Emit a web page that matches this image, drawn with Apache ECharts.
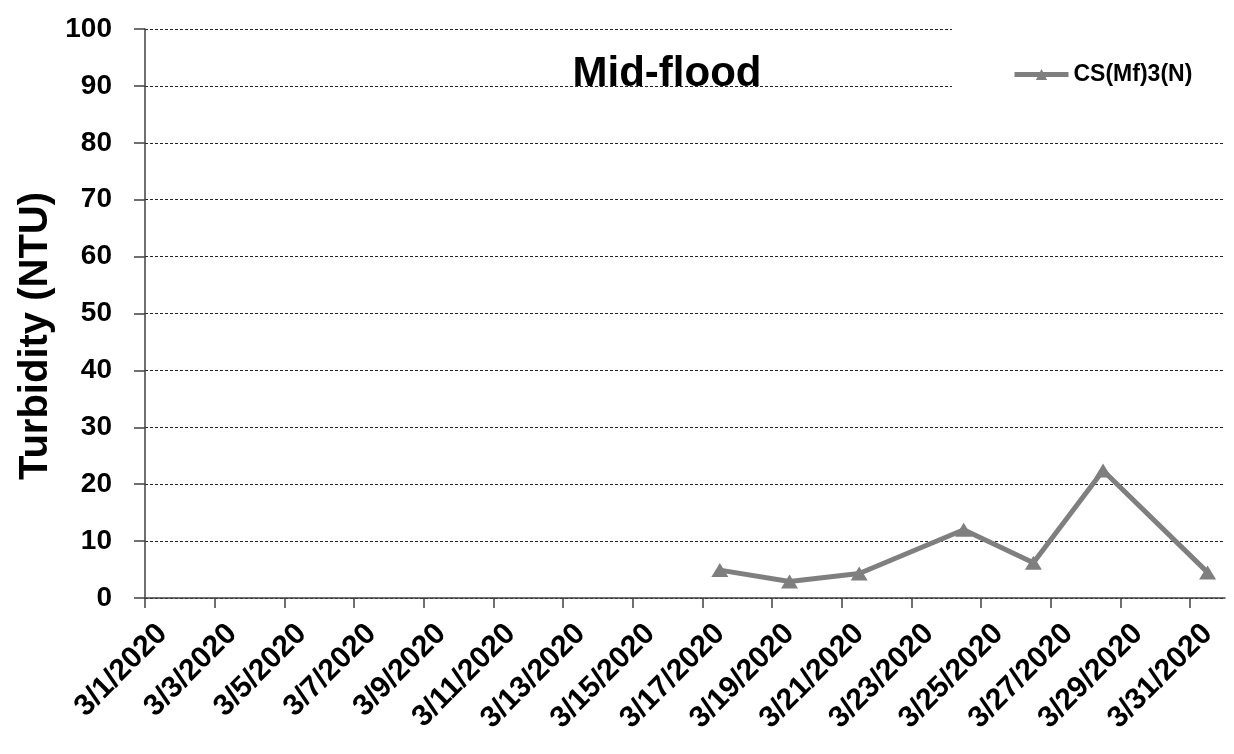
<!DOCTYPE html>
<html>
<head>
<meta charset="utf-8">
<script src="https://cdn.jsdelivr.net/npm/echarts@6/dist/echarts.min.js"></script>
<style>
html,body{margin:0;padding:0;background:#fff;}
#chart{width:1234px;height:754px;}
</style>
</head>
<body>
<div id="chart"></div>
<script>
// Data (x = day offset from 3/1/2020, points sit at mid-day)
const seriesName = 'CS(Mf)3(N)';
const dayOffsets = [16.5, 18.5, 20.5, 23.5, 25.5, 27.5, 30.5];
const turbidity = [4.9, 2.9, 4.3, 12.0, 6.2, 22.4, 4.5];
const tickDays = [0, 2, 4, 6, 8, 10, 12, 14, 16, 18, 20, 22, 24, 26, 28, 30];
const tickLabels = ['3/1/2020','3/3/2020','3/5/2020','3/7/2020','3/9/2020','3/11/2020','3/13/2020','3/15/2020','3/17/2020','3/19/2020','3/21/2020','3/23/2020','3/25/2020','3/27/2020','3/29/2020','3/31/2020'];
const titleText = 'Mid-flood';
const yTitle = 'Turbidity (NTU)';

const FONT = '"Liberation Sans", Arial, Helvetica, sans-serif';
const chart = echarts.init(document.getElementById('chart'), null, {renderer: 'canvas'});

const labelPos = tickDays.map(d => d + 0.5);

chart.setOption({
  animation: false,
  backgroundColor: '#fff',
  title: {
    text: titleText,
    left: 662,
    top: 48,
    textAlign: 'center',
    textStyle: {fontFamily: FONT, fontWeight: 'bold', fontSize: 42, color: '#000'}
  },
  legend: {
    left: 952,
    top: 18,
    padding: [45, 60, 40, 60],
    backgroundColor: '#fff',
    itemWidth: 54,
    itemHeight: 14,
    itemGap: 5,
    lineStyle: {width: 5},
    textStyle: {fontFamily: FONT, fontWeight: 'bold', fontSize: 23, color: '#000'},
    data: [seriesName]
  },
  grid: {left: 145, right: 9, top: 29, bottom: 156},
  xAxis: {
    type: 'value',
    min: 0,
    max: 31,
    axisLine: {show: true, onZero: false, lineStyle: {color: '#404040', width: 1.5}},
    axisTick: {show: true, length: 10, customValues: tickDays, lineStyle: {color: '#404040', width: 1.5}},
    splitLine: {show: false},
    axisLabel: {
      customValues: labelPos,
      rotate: 45,
      margin: 31,
      color: '#000',
      fontFamily: FONT,
      fontWeight: 'bold',
      fontSize: 30,
      formatter: function (v) {
        const i = tickDays.indexOf(Math.round(v - 0.5));
        return i >= 0 ? tickLabels[i] : '';
      }
    }
  },
  yAxis: {
    type: 'value',
    min: 0,
    max: 100,
    interval: 10,
    axisLine: {show: true, lineStyle: {color: '#404040', width: 1.5}},
    axisTick: {show: true, length: 11, lineStyle: {color: '#404040', width: 1.5}},
    splitLine: {show: true, lineStyle: {color: '#222', width: 1, type: [3, 2]}},
    axisLabel: {margin: 33, color: '#000', fontFamily: FONT, fontWeight: 'bold', fontSize: 28}
  },
  graphic: [{
    type: 'text',
    x: 36,
    y: 336,
    rotation: Math.PI / 2,
    style: {
      text: yTitle,
      fill: '#000',
      font: 'bold 40px ' + FONT,
      textAlign: 'center',
      textVerticalAlign: 'middle'
    }
  }],
  series: [{
    name: seriesName,
    type: 'line',
    data: dayOffsets.map((d, i) => [d, turbidity[i]]),
    symbol: 'triangle',
    symbolSize: [17, 14],
    itemStyle: {color: '#7f7f7f'},
    lineStyle: {color: '#7f7f7f', width: 5},
    z: 5
  }]
});
</script>
</body>
</html>
